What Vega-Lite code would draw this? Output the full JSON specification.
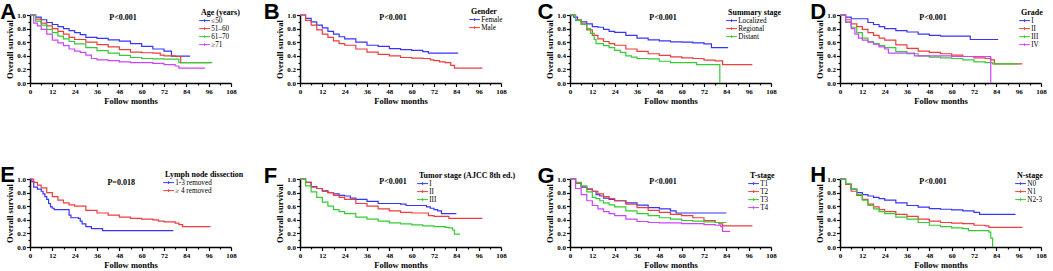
{
"$schema":"https://vega.github.io/schema/vega-lite/v6.json",
"background":"white",
"padding":{"left":0,"top":1,"right":0,"bottom":0},
"config":{
 "view":{"stroke":null},
 "axis":{"grid":false,"domainColor":"#000","domainWidth":1.5,"tickColor":"#000","tickWidth":1.2,"tickSize":3,"labelFont":"Liberation Serif","labelFontWeight":"bold","labelFontSize":7,"labelColor":"#000","labelPadding":1,"labelFlush":false,"labelOverlap":false,"titleFont":"Liberation Serif","titleFontWeight":"bold","titleFontSize":8.5,"titleColor":"#000","titlePadding":2},
 "axisX":{"tickCount":40,"labelExpr":"datum.value % 12 === 0 ? datum.label : ''","tickSize":{"condition":{"test":"datum.value % 12 === 0","value":3.5},"value":2}},
 "axisY":{"tickCount":40,"labelExpr":"round(datum.value*10) % 2 === 0 ? datum.label : ''","tickSize":{"condition":{"test":"round(datum.value*10) % 2 === 0","value":3.5},"value":2}},
 "legend":{"titleFont":"Liberation Serif","titleFontSize":8,"titleFontWeight":"bold","titleColor":"#000","labelFont":"Liberation Serif","labelFontSize":7.2,"labelColor":"#000","symbolType":"M-1.8,0H1.8M0,-0.45V0.45","symbolSize":36,"symbolStrokeWidth":1,"rowPadding":0,"titlePadding":0,"labelOffset":3,"padding":0}
},
"datasets":{
"A":[
{"g":"≤50","t":0,"s":1},{"g":"≤50","t":3,"s":0.97},{"g":"≤50","t":6,"s":0.93},{"g":"≤50","t":9,"s":0.89},{"g":"≤50","t":12,"s":0.86},{"g":"≤50","t":15,"s":0.83},{"g":"≤50","t":18,"s":0.8},{"g":"≤50","t":21,"s":0.77},{"g":"≤50","t":24,"s":0.74},{"g":"≤50","t":27,"s":0.71},{"g":"≤50","t":30,"s":0.67},{"g":"≤50","t":36,"s":0.655},{"g":"≤50","t":42,"s":0.635},{"g":"≤50","t":48,"s":0.615},{"g":"≤50","t":54,"s":0.58},{"g":"≤50","t":60,"s":0.54},{"g":"≤50","t":66,"s":0.5},{"g":"≤50","t":72,"s":0.47},{"g":"≤50","t":76,"s":0.395},{"g":"≤50","t":86,"s":0.395},
{"g":"51–60","t":0,"s":1},{"g":"51–60","t":3,"s":0.94},{"g":"51–60","t":6,"s":0.88},{"g":"51–60","t":9,"s":0.84},{"g":"51–60","t":12,"s":0.8},{"g":"51–60","t":15,"s":0.76},{"g":"51–60","t":18,"s":0.72},{"g":"51–60","t":21,"s":0.67},{"g":"51–60","t":24,"s":0.64},{"g":"51–60","t":30,"s":0.6},{"g":"51–60","t":36,"s":0.565},{"g":"51–60","t":42,"s":0.53},{"g":"51–60","t":48,"s":0.49},{"g":"51–60","t":54,"s":0.455},{"g":"51–60","t":60,"s":0.445},{"g":"51–60","t":66,"s":0.44},{"g":"51–60","t":70,"s":0.41},{"g":"51–60","t":72,"s":0.4},{"g":"51–60","t":78,"s":0.39},{"g":"51–60","t":81,"s":0.3},{"g":"51–60","t":97,"s":0.3},
{"g":"61–70","t":0,"s":1},{"g":"61–70","t":3,"s":0.91},{"g":"61–70","t":6,"s":0.85},{"g":"61–70","t":9,"s":0.79},{"g":"61–70","t":12,"s":0.74},{"g":"61–70","t":15,"s":0.69},{"g":"61–70","t":18,"s":0.65},{"g":"61–70","t":21,"s":0.61},{"g":"61–70","t":24,"s":0.575},{"g":"61–70","t":30,"s":0.52},{"g":"61–70","t":36,"s":0.475},{"g":"61–70","t":42,"s":0.44},{"g":"61–70","t":48,"s":0.405},{"g":"61–70","t":54,"s":0.375},{"g":"61–70","t":60,"s":0.36},{"g":"61–70","t":66,"s":0.355},{"g":"61–70","t":72,"s":0.35},{"g":"61–70","t":79,"s":0.35},{"g":"61–70","t":80,"s":0.3},{"g":"61–70","t":98,"s":0.3},
{"g":"≥71","t":0,"s":1},{"g":"≥71","t":2,"s":0.88},{"g":"≥71","t":4,"s":0.84},{"g":"≥71","t":6,"s":0.79},{"g":"≥71","t":9,"s":0.72},{"g":"≥71","t":12,"s":0.63},{"g":"≥71","t":15,"s":0.59},{"g":"≥71","t":18,"s":0.55},{"g":"≥71","t":21,"s":0.5},{"g":"≥71","t":24,"s":0.47},{"g":"≥71","t":27,"s":0.45},{"g":"≥71","t":30,"s":0.41},{"g":"≥71","t":33,"s":0.36},{"g":"≥71","t":36,"s":0.34},{"g":"≥71","t":42,"s":0.33},{"g":"≥71","t":48,"s":0.31},{"g":"≥71","t":54,"s":0.3},{"g":"≥71","t":60,"s":0.3},{"g":"≥71","t":66,"s":0.29},{"g":"≥71","t":72,"s":0.27},{"g":"≥71","t":78,"s":0.25},{"g":"≥71","t":80,"s":0.22},{"g":"≥71","t":94,"s":0.22}
],
"B":[
{"g":"Female","t":0,"s":1},{"g":"Female","t":3,"s":0.95},{"g":"Female","t":6,"s":0.9},{"g":"Female","t":9,"s":0.85},{"g":"Female","t":12,"s":0.81},{"g":"Female","t":15,"s":0.76},{"g":"Female","t":18,"s":0.72},{"g":"Female","t":21,"s":0.68},{"g":"Female","t":24,"s":0.65},{"g":"Female","t":30,"s":0.6},{"g":"Female","t":36,"s":0.555},{"g":"Female","t":42,"s":0.54},{"g":"Female","t":48,"s":0.505},{"g":"Female","t":54,"s":0.49},{"g":"Female","t":60,"s":0.48},{"g":"Female","t":66,"s":0.46},{"g":"Female","t":69,"s":0.44},{"g":"Female","t":85,"s":0.44},
{"g":"Male","t":0,"s":1},{"g":"Male","t":3,"s":0.92},{"g":"Male","t":6,"s":0.85},{"g":"Male","t":9,"s":0.78},{"g":"Male","t":12,"s":0.72},{"g":"Male","t":15,"s":0.67},{"g":"Male","t":18,"s":0.62},{"g":"Male","t":21,"s":0.58},{"g":"Male","t":24,"s":0.555},{"g":"Male","t":30,"s":0.5},{"g":"Male","t":36,"s":0.455},{"g":"Male","t":42,"s":0.42},{"g":"Male","t":48,"s":0.4},{"g":"Male","t":54,"s":0.375},{"g":"Male","t":60,"s":0.365},{"g":"Male","t":66,"s":0.36},{"g":"Male","t":70,"s":0.34},{"g":"Male","t":72,"s":0.33},{"g":"Male","t":75,"s":0.31},{"g":"Male","t":78,"s":0.3},{"g":"Male","t":81,"s":0.26},{"g":"Male","t":83,"s":0.22},{"g":"Male","t":98,"s":0.22}
],
"C":[
{"g":"Localized","t":0,"s":1},{"g":"Localized","t":2,"s":0.97},{"g":"Localized","t":4,"s":0.92},{"g":"Localized","t":6,"s":0.9},{"g":"Localized","t":9,"s":0.87},{"g":"Localized","t":12,"s":0.83},{"g":"Localized","t":15,"s":0.82},{"g":"Localized","t":18,"s":0.79},{"g":"Localized","t":21,"s":0.76},{"g":"Localized","t":24,"s":0.745},{"g":"Localized","t":30,"s":0.7},{"g":"Localized","t":36,"s":0.66},{"g":"Localized","t":42,"s":0.635},{"g":"Localized","t":48,"s":0.62},{"g":"Localized","t":54,"s":0.605},{"g":"Localized","t":60,"s":0.6},{"g":"Localized","t":66,"s":0.59},{"g":"Localized","t":72,"s":0.575},{"g":"Localized","t":76,"s":0.52},{"g":"Localized","t":85,"s":0.52},
{"g":"Regional","t":0,"s":1},{"g":"Regional","t":3,"s":0.93},{"g":"Regional","t":6,"s":0.87},{"g":"Regional","t":9,"s":0.78},{"g":"Regional","t":12,"s":0.7},{"g":"Regional","t":15,"s":0.65},{"g":"Regional","t":18,"s":0.61},{"g":"Regional","t":21,"s":0.58},{"g":"Regional","t":24,"s":0.555},{"g":"Regional","t":30,"s":0.5},{"g":"Regional","t":36,"s":0.465},{"g":"Regional","t":42,"s":0.43},{"g":"Regional","t":48,"s":0.405},{"g":"Regional","t":54,"s":0.385},{"g":"Regional","t":60,"s":0.37},{"g":"Regional","t":66,"s":0.36},{"g":"Regional","t":72,"s":0.335},{"g":"Regional","t":78,"s":0.325},{"g":"Regional","t":82,"s":0.27},{"g":"Regional","t":98,"s":0.27},
{"g":"Distant","t":0,"s":1},{"g":"Distant","t":3,"s":0.92},{"g":"Distant","t":6,"s":0.86},{"g":"Distant","t":9,"s":0.8},{"g":"Distant","t":11,"s":0.73},{"g":"Distant","t":13,"s":0.64},{"g":"Distant","t":14,"s":0.58},{"g":"Distant","t":18,"s":0.55},{"g":"Distant","t":21,"s":0.52},{"g":"Distant","t":24,"s":0.48},{"g":"Distant","t":27,"s":0.45},{"g":"Distant","t":30,"s":0.4},{"g":"Distant","t":33,"s":0.38},{"g":"Distant","t":36,"s":0.36},{"g":"Distant","t":42,"s":0.355},{"g":"Distant","t":48,"s":0.32},{"g":"Distant","t":54,"s":0.3},{"g":"Distant","t":66,"s":0.3},{"g":"Distant","t":68,"s":0.27},{"g":"Distant","t":80,"s":0.27},{"g":"Distant","t":80.5,"s":0}
],
"D":[
{"g":"I","t":0,"s":1},{"g":"I","t":3,"s":0.97},{"g":"I","t":6,"s":0.945},{"g":"I","t":12,"s":0.945},{"g":"I","t":15,"s":0.89},{"g":"I","t":18,"s":0.86},{"g":"I","t":21,"s":0.83},{"g":"I","t":24,"s":0.8},{"g":"I","t":30,"s":0.77},{"g":"I","t":36,"s":0.75},{"g":"I","t":42,"s":0.72},{"g":"I","t":48,"s":0.7},{"g":"I","t":54,"s":0.69},{"g":"I","t":69,"s":0.69},{"g":"I","t":70,"s":0.64},{"g":"I","t":85,"s":0.64},
{"g":"II","t":0,"s":1},{"g":"II","t":3,"s":0.93},{"g":"II","t":6,"s":0.87},{"g":"II","t":9,"s":0.83},{"g":"II","t":12,"s":0.79},{"g":"II","t":15,"s":0.74},{"g":"II","t":18,"s":0.7},{"g":"II","t":21,"s":0.66},{"g":"II","t":24,"s":0.63},{"g":"II","t":30,"s":0.56},{"g":"II","t":36,"s":0.51},{"g":"II","t":42,"s":0.47},{"g":"II","t":48,"s":0.45},{"g":"II","t":54,"s":0.43},{"g":"II","t":60,"s":0.41},{"g":"II","t":66,"s":0.39},{"g":"II","t":72,"s":0.37},{"g":"II","t":78,"s":0.36},{"g":"II","t":81,"s":0.34},{"g":"II","t":83,"s":0.28},{"g":"II","t":98,"s":0.28},
{"g":"III","t":0,"s":1},{"g":"III","t":3,"s":0.89},{"g":"III","t":6,"s":0.82},{"g":"III","t":9,"s":0.74},{"g":"III","t":12,"s":0.66},{"g":"III","t":15,"s":0.61},{"g":"III","t":18,"s":0.58},{"g":"III","t":21,"s":0.55},{"g":"III","t":24,"s":0.52},{"g":"III","t":30,"s":0.46},{"g":"III","t":36,"s":0.43},{"g":"III","t":42,"s":0.4},{"g":"III","t":48,"s":0.38},{"g":"III","t":54,"s":0.37},{"g":"III","t":60,"s":0.36},{"g":"III","t":66,"s":0.34},{"g":"III","t":72,"s":0.31},{"g":"III","t":78,"s":0.3},{"g":"III","t":82,"s":0.28},{"g":"III","t":96,"s":0.28},
{"g":"IV","t":0,"s":1},{"g":"IV","t":3,"s":0.9},{"g":"IV","t":6,"s":0.8},{"g":"IV","t":8,"s":0.72},{"g":"IV","t":10,"s":0.66},{"g":"IV","t":12,"s":0.63},{"g":"IV","t":15,"s":0.6},{"g":"IV","t":18,"s":0.57},{"g":"IV","t":21,"s":0.53},{"g":"IV","t":24,"s":0.5},{"g":"IV","t":26,"s":0.44},{"g":"IV","t":40,"s":0.4},{"g":"IV","t":60,"s":0.39},{"g":"IV","t":80,"s":0.39},{"g":"IV","t":81,"s":0}
],
"E":[
{"g":"1-3 removed","t":0,"s":1},{"g":"1-3 removed","t":1,"s":0.96},{"g":"1-3 removed","t":2,"s":0.88},{"g":"1-3 removed","t":4,"s":0.85},{"g":"1-3 removed","t":6,"s":0.82},{"g":"1-3 removed","t":7,"s":0.78},{"g":"1-3 removed","t":8,"s":0.74},{"g":"1-3 removed","t":9,"s":0.7},{"g":"1-3 removed","t":10,"s":0.64},{"g":"1-3 removed","t":11,"s":0.59},{"g":"1-3 removed","t":12,"s":0.57},{"g":"1-3 removed","t":13,"s":0.55},{"g":"1-3 removed","t":20,"s":0.55},{"g":"1-3 removed","t":21,"s":0.47},{"g":"1-3 removed","t":22,"s":0.43},{"g":"1-3 removed","t":26,"s":0.42},{"g":"1-3 removed","t":27,"s":0.38},{"g":"1-3 removed","t":28,"s":0.34},{"g":"1-3 removed","t":30,"s":0.3},{"g":"1-3 removed","t":33,"s":0.27},{"g":"1-3 removed","t":39,"s":0.24},{"g":"1-3 removed","t":77,"s":0.24},
{"g":"≥ 4 removed","t":0,"s":1},{"g":"≥ 4 removed","t":2,"s":0.95},{"g":"≥ 4 removed","t":4,"s":0.91},{"g":"≥ 4 removed","t":6,"s":0.87},{"g":"≥ 4 removed","t":9,"s":0.8},{"g":"≥ 4 removed","t":12,"s":0.74},{"g":"≥ 4 removed","t":15,"s":0.69},{"g":"≥ 4 removed","t":18,"s":0.65},{"g":"≥ 4 removed","t":21,"s":0.62},{"g":"≥ 4 removed","t":24,"s":0.6},{"g":"≥ 4 removed","t":30,"s":0.54},{"g":"≥ 4 removed","t":36,"s":0.5},{"g":"≥ 4 removed","t":42,"s":0.47},{"g":"≥ 4 removed","t":48,"s":0.44},{"g":"≥ 4 removed","t":54,"s":0.42},{"g":"≥ 4 removed","t":60,"s":0.41},{"g":"≥ 4 removed","t":66,"s":0.4},{"g":"≥ 4 removed","t":69,"s":0.38},{"g":"≥ 4 removed","t":72,"s":0.37},{"g":"≥ 4 removed","t":78,"s":0.35},{"g":"≥ 4 removed","t":80,"s":0.33},{"g":"≥ 4 removed","t":82,"s":0.3},{"g":"≥ 4 removed","t":97,"s":0.3}
],
"F":[
{"g":"I","t":0,"s":1},{"g":"I","t":3,"s":0.95},{"g":"I","t":6,"s":0.89},{"g":"I","t":9,"s":0.86},{"g":"I","t":12,"s":0.82},{"g":"I","t":15,"s":0.8},{"g":"I","t":18,"s":0.78},{"g":"I","t":21,"s":0.76},{"g":"I","t":24,"s":0.75},{"g":"I","t":27,"s":0.72},{"g":"I","t":30,"s":0.7},{"g":"I","t":36,"s":0.67},{"g":"I","t":42,"s":0.64},{"g":"I","t":48,"s":0.64},{"g":"I","t":54,"s":0.63},{"g":"I","t":57,"s":0.61},{"g":"I","t":66,"s":0.61},{"g":"I","t":68,"s":0.59},{"g":"I","t":70,"s":0.57},{"g":"I","t":72,"s":0.55},{"g":"I","t":74,"s":0.53},{"g":"I","t":76,"s":0.49},{"g":"I","t":84,"s":0.49},
{"g":"II","t":0,"s":1},{"g":"II","t":3,"s":0.95},{"g":"II","t":6,"s":0.88},{"g":"II","t":9,"s":0.86},{"g":"II","t":12,"s":0.83},{"g":"II","t":15,"s":0.8},{"g":"II","t":18,"s":0.76},{"g":"II","t":21,"s":0.73},{"g":"II","t":24,"s":0.7},{"g":"II","t":30,"s":0.64},{"g":"II","t":36,"s":0.6},{"g":"II","t":42,"s":0.56},{"g":"II","t":48,"s":0.53},{"g":"II","t":54,"s":0.51},{"g":"II","t":60,"s":0.5},{"g":"II","t":66,"s":0.5},{"g":"II","t":69,"s":0.46},{"g":"II","t":72,"s":0.45},{"g":"II","t":78,"s":0.45},{"g":"II","t":80,"s":0.42},{"g":"II","t":98,"s":0.42},
{"g":"III","t":0,"s":1},{"g":"III","t":3,"s":0.9},{"g":"III","t":6,"s":0.81},{"g":"III","t":9,"s":0.73},{"g":"III","t":12,"s":0.66},{"g":"III","t":15,"s":0.6},{"g":"III","t":18,"s":0.55},{"g":"III","t":21,"s":0.52},{"g":"III","t":24,"s":0.49},{"g":"III","t":30,"s":0.44},{"g":"III","t":36,"s":0.41},{"g":"III","t":42,"s":0.38},{"g":"III","t":48,"s":0.355},{"g":"III","t":54,"s":0.34},{"g":"III","t":60,"s":0.325},{"g":"III","t":66,"s":0.31},{"g":"III","t":72,"s":0.3},{"g":"III","t":78,"s":0.29},{"g":"III","t":80,"s":0.28},{"g":"III","t":82,"s":0.25},{"g":"III","t":83,"s":0.19},{"g":"III","t":86,"s":0.19}
],
"G":[
{"g":"T1","t":0,"s":1},{"g":"T1","t":3,"s":0.94},{"g":"T1","t":6,"s":0.88},{"g":"T1","t":9,"s":0.85},{"g":"T1","t":12,"s":0.82},{"g":"T1","t":14,"s":0.77},{"g":"T1","t":16,"s":0.75},{"g":"T1","t":18,"s":0.72},{"g":"T1","t":21,"s":0.7},{"g":"T1","t":24,"s":0.68},{"g":"T1","t":30,"s":0.65},{"g":"T1","t":36,"s":0.615},{"g":"T1","t":42,"s":0.58},{"g":"T1","t":48,"s":0.56},{"g":"T1","t":54,"s":0.53},{"g":"T1","t":57,"s":0.5},{"g":"T1","t":84,"s":0.5},
{"g":"T2","t":0,"s":1},{"g":"T2","t":3,"s":0.94},{"g":"T2","t":6,"s":0.89},{"g":"T2","t":9,"s":0.85},{"g":"T2","t":12,"s":0.82},{"g":"T2","t":15,"s":0.78},{"g":"T2","t":18,"s":0.74},{"g":"T2","t":21,"s":0.71},{"g":"T2","t":24,"s":0.68},{"g":"T2","t":30,"s":0.63},{"g":"T2","t":36,"s":0.58},{"g":"T2","t":42,"s":0.54},{"g":"T2","t":48,"s":0.51},{"g":"T2","t":54,"s":0.48},{"g":"T2","t":60,"s":0.46},{"g":"T2","t":66,"s":0.43},{"g":"T2","t":72,"s":0.39},{"g":"T2","t":78,"s":0.36},{"g":"T2","t":80,"s":0.34},{"g":"T2","t":82,"s":0.31},{"g":"T2","t":98,"s":0.31},
{"g":"T3","t":0,"s":1},{"g":"T3","t":3,"s":0.95},{"g":"T3","t":6,"s":0.9},{"g":"T3","t":9,"s":0.81},{"g":"T3","t":12,"s":0.73},{"g":"T3","t":14,"s":0.71},{"g":"T3","t":16,"s":0.68},{"g":"T3","t":18,"s":0.65},{"g":"T3","t":21,"s":0.62},{"g":"T3","t":24,"s":0.59},{"g":"T3","t":30,"s":0.53},{"g":"T3","t":36,"s":0.49},{"g":"T3","t":42,"s":0.46},{"g":"T3","t":48,"s":0.43},{"g":"T3","t":54,"s":0.41},{"g":"T3","t":60,"s":0.39},{"g":"T3","t":66,"s":0.38},{"g":"T3","t":72,"s":0.37},{"g":"T3","t":78,"s":0.36},{"g":"T3","t":84,"s":0.36},
{"g":"T4","t":0,"s":1},{"g":"T4","t":3,"s":0.86},{"g":"T4","t":6,"s":0.77},{"g":"T4","t":9,"s":0.68},{"g":"T4","t":12,"s":0.61},{"g":"T4","t":15,"s":0.56},{"g":"T4","t":18,"s":0.52},{"g":"T4","t":21,"s":0.49},{"g":"T4","t":24,"s":0.46},{"g":"T4","t":30,"s":0.41},{"g":"T4","t":36,"s":0.375},{"g":"T4","t":42,"s":0.36},{"g":"T4","t":48,"s":0.355},{"g":"T4","t":60,"s":0.345},{"g":"T4","t":72,"s":0.33},{"g":"T4","t":78,"s":0.32},{"g":"T4","t":81,"s":0.3},{"g":"T4","t":82,"s":0.23},{"g":"T4","t":86,"s":0.23}
],
"H":[
{"g":"N0","t":0,"s":1},{"g":"N0","t":3,"s":0.92},{"g":"N0","t":6,"s":0.85},{"g":"N0","t":9,"s":0.8},{"g":"N0","t":12,"s":0.77},{"g":"N0","t":15,"s":0.75},{"g":"N0","t":18,"s":0.73},{"g":"N0","t":21,"s":0.71},{"g":"N0","t":24,"s":0.69},{"g":"N0","t":30,"s":0.65},{"g":"N0","t":36,"s":0.61},{"g":"N0","t":42,"s":0.585},{"g":"N0","t":48,"s":0.565},{"g":"N0","t":54,"s":0.555},{"g":"N0","t":60,"s":0.545},{"g":"N0","t":66,"s":0.53},{"g":"N0","t":72,"s":0.51},{"g":"N0","t":75,"s":0.48},{"g":"N0","t":84,"s":0.48},{"g":"N0","t":94,"s":0.47},
{"g":"N1","t":0,"s":1},{"g":"N1","t":3,"s":0.92},{"g":"N1","t":6,"s":0.82},{"g":"N1","t":9,"s":0.76},{"g":"N1","t":12,"s":0.7},{"g":"N1","t":15,"s":0.63},{"g":"N1","t":18,"s":0.59},{"g":"N1","t":21,"s":0.55},{"g":"N1","t":24,"s":0.52},{"g":"N1","t":30,"s":0.48},{"g":"N1","t":36,"s":0.45},{"g":"N1","t":42,"s":0.41},{"g":"N1","t":48,"s":0.38},{"g":"N1","t":54,"s":0.36},{"g":"N1","t":60,"s":0.35},{"g":"N1","t":66,"s":0.345},{"g":"N1","t":72,"s":0.32},{"g":"N1","t":78,"s":0.31},{"g":"N1","t":80,"s":0.29},{"g":"N1","t":98,"s":0.29},
{"g":"N2-3","t":0,"s":1},{"g":"N2-3","t":3,"s":0.93},{"g":"N2-3","t":6,"s":0.85},{"g":"N2-3","t":9,"s":0.77},{"g":"N2-3","t":12,"s":0.69},{"g":"N2-3","t":15,"s":0.61},{"g":"N2-3","t":18,"s":0.56},{"g":"N2-3","t":21,"s":0.52},{"g":"N2-3","t":24,"s":0.49},{"g":"N2-3","t":30,"s":0.44},{"g":"N2-3","t":36,"s":0.41},{"g":"N2-3","t":42,"s":0.36},{"g":"N2-3","t":48,"s":0.32},{"g":"N2-3","t":54,"s":0.3},{"g":"N2-3","t":60,"s":0.28},{"g":"N2-3","t":66,"s":0.27},{"g":"N2-3","t":69,"s":0.24},{"g":"N2-3","t":78,"s":0.24},{"g":"N2-3","t":80,"s":0.22},{"g":"N2-3","t":81,"s":0.13},{"g":"N2-3","t":82,"s":0}
]
},
"columns":4,
"spacing":{"row":96,"column":69},
"bounds":"flush",
"resolve":{"scale":{"color":"independent"},"legend":{"color":"independent"}},
"concat":[
{"width":201,"height":68,"layer":[
 {"data":{"name":"A"},"mark":{"type":"line","interpolate":"step-after","strokeWidth":1.2},"encoding":{
  "x":{"field":"t","type":"quantitative","scale":{"domain":[0,108],"nice":false},"axis":{"values":[0,6,12,18,24,30,36,42,48,54,60,66,72,78,84,90,96,102,108],"title":"Follow months"}},
  "y":{"field":"s","type":"quantitative","scale":{"domain":[0,1],"nice":false},"axis":{"values":[0,0.1,0.2,0.3,0.4,0.5,0.6,0.7,0.8,0.9,1],"format":".1f","title":"Overall survival"}},
  "color":{"field":"g","type":"nominal","scale":{"domain":["≤50","51–60","61–70","≥71"],"range":["#3535ff","#f03c3c","#33cc33","#cc44ff"]},"legend":{"title":"Age (years)","orient":"none","legendX":171,"legendY":-6}}}},
 {"data":{"values":[{}]},"mark":{"type":"text","font":"Liberation Serif","fontWeight":"bold","fontSize":8},"encoding":{"x":{"datum":50},"y":{"datum":0.95},"text":{"value":"P<0.001"}}},
 {"data":{"values":[{}]},"mark":{"type":"text","font":"Liberation Sans","fontWeight":"bold","fontSize":22,"align":"left","baseline":"alphabetic"},"encoding":{"x":{"datum":-16},"y":{"datum":0.94},"text":{"value":"A"}}}
]},
{"width":201,"height":68,"layer":[
 {"data":{"name":"B"},"mark":{"type":"line","interpolate":"step-after","strokeWidth":1.2},"encoding":{
  "x":{"field":"t","type":"quantitative","scale":{"domain":[0,108],"nice":false},"axis":{"values":[0,6,12,18,24,30,36,42,48,54,60,66,72,78,84,90,96,102,108],"title":"Follow months"}},
  "y":{"field":"s","type":"quantitative","scale":{"domain":[0,1],"nice":false},"axis":{"values":[0,0.1,0.2,0.3,0.4,0.5,0.6,0.7,0.8,0.9,1],"format":".1f","title":"Overall survival"}},
  "color":{"field":"g","type":"nominal","scale":{"domain":["Female","Male"],"range":["#3535ff","#f03c3c"]},"legend":{"title":"Gender","orient":"none","legendX":171,"legendY":-7}}}},
 {"data":{"values":[{}]},"mark":{"type":"text","font":"Liberation Serif","fontWeight":"bold","fontSize":8},"encoding":{"x":{"datum":50},"y":{"datum":0.95},"text":{"value":"P<0.001"}}},
 {"data":{"values":[{}]},"mark":{"type":"text","font":"Liberation Sans","fontWeight":"bold","fontSize":22,"align":"left","baseline":"alphabetic"},"encoding":{"x":{"datum":-19.5},"y":{"datum":0.935},"text":{"value":"B"}}}
]},
{"width":201,"height":68,"layer":[
 {"data":{"name":"C"},"mark":{"type":"line","interpolate":"step-after","strokeWidth":1.2},"encoding":{
  "x":{"field":"t","type":"quantitative","scale":{"domain":[0,108],"nice":false},"axis":{"values":[0,6,12,18,24,30,36,42,48,54,60,66,72,78,84,90,96,102,108],"title":"Follow months"}},
  "y":{"field":"s","type":"quantitative","scale":{"domain":[0,1],"nice":false},"axis":{"values":[0,0.1,0.2,0.3,0.4,0.5,0.6,0.7,0.8,0.9,1],"format":".1f","title":"Overall survival"}},
  "color":{"field":"g","type":"nominal","scale":{"domain":["Localized","Regional","Distant"],"range":["#3535ff","#f03c3c","#33cc33"]},"legend":{"title":"Summary stage","orient":"none","legendX":158,"legendY":-6}}}},
 {"data":{"values":[{}]},"mark":{"type":"text","font":"Liberation Serif","fontWeight":"bold","fontSize":8},"encoding":{"x":{"datum":50},"y":{"datum":0.95},"text":{"value":"P<0.001"}}},
 {"data":{"values":[{}]},"mark":{"type":"text","font":"Liberation Sans","fontWeight":"bold","fontSize":22,"align":"left","baseline":"alphabetic"},"encoding":{"x":{"datum":-17.5},"y":{"datum":0.94},"text":{"value":"C"}}}
]},
{"width":201,"height":68,"layer":[
 {"data":{"name":"D"},"mark":{"type":"line","interpolate":"step-after","strokeWidth":1.2},"encoding":{
  "x":{"field":"t","type":"quantitative","scale":{"domain":[0,108],"nice":false},"axis":{"values":[0,6,12,18,24,30,36,42,48,54,60,66,72,78,84,90,96,102,108],"title":"Follow months"}},
  "y":{"field":"s","type":"quantitative","scale":{"domain":[0,1],"nice":false},"axis":{"values":[0,0.1,0.2,0.3,0.4,0.5,0.6,0.7,0.8,0.9,1],"format":".1f","title":"Overall survival"}},
  "color":{"field":"g","type":"nominal","scale":{"domain":["I","II","III","IV"],"range":["#3535ff","#f03c3c","#33cc33","#cc44ff"]},"legend":{"title":"Grade","orient":"none","legendX":181,"legendY":-6}}}},
 {"data":{"values":[{}]},"mark":{"type":"text","font":"Liberation Serif","fontWeight":"bold","fontSize":8},"encoding":{"x":{"datum":50},"y":{"datum":0.95},"text":{"value":"P<0.001"}}},
 {"data":{"values":[{}]},"mark":{"type":"text","font":"Liberation Sans","fontWeight":"bold","fontSize":22,"align":"left","baseline":"alphabetic"},"encoding":{"x":{"datum":-16},"y":{"datum":0.94},"text":{"value":"D"}}}
]},
{"width":201,"height":68,"layer":[
 {"data":{"name":"E"},"mark":{"type":"line","interpolate":"step-after","strokeWidth":1.2},"encoding":{
  "x":{"field":"t","type":"quantitative","scale":{"domain":[0,108],"nice":false},"axis":{"values":[0,6,12,18,24,30,36,42,48,54,60,66,72,78,84,90,96,102,108],"title":"Follow months"}},
  "y":{"field":"s","type":"quantitative","scale":{"domain":[0,1],"nice":false},"axis":{"values":[0,0.1,0.2,0.3,0.4,0.5,0.6,0.7,0.8,0.9,1],"format":".1f","title":"Overall survival"}},
  "color":{"field":"g","type":"nominal","scale":{"domain":["1-3 removed","≥ 4 removed"],"range":["#3535ff","#f03c3c"]},"legend":{"title":"Lymph node dissection","orient":"none","legendX":135,"legendY":-8}}}},
 {"data":{"values":[{}]},"mark":{"type":"text","font":"Liberation Serif","fontWeight":"bold","fontSize":8},"encoding":{"x":{"datum":49},"y":{"datum":0.94},"text":{"value":"P=0.018"}}},
 {"data":{"values":[{}]},"mark":{"type":"text","font":"Liberation Sans","fontWeight":"bold","fontSize":22,"align":"left","baseline":"alphabetic"},"encoding":{"x":{"datum":-16},"y":{"datum":0.95},"text":{"value":"E"}}}
]},
{"width":201,"height":68,"layer":[
 {"data":{"name":"F"},"mark":{"type":"line","interpolate":"step-after","strokeWidth":1.2},"encoding":{
  "x":{"field":"t","type":"quantitative","scale":{"domain":[0,108],"nice":false},"axis":{"values":[0,6,12,18,24,30,36,42,48,54,60,66,72,78,84,90,96,102,108],"title":"Follow months"}},
  "y":{"field":"s","type":"quantitative","scale":{"domain":[0,1],"nice":false},"axis":{"values":[0,0.1,0.2,0.3,0.4,0.5,0.6,0.7,0.8,0.9,1],"format":".1f","title":"Overall survival"}},
  "color":{"field":"g","type":"nominal","scale":{"domain":["I","II","III"],"range":["#3535ff","#f03c3c","#33cc33"]},"legend":{"title":"Tumor stage (AJCC 8th ed.)","orient":"none","legendX":119,"legendY":-7}}}},
 {"data":{"values":[{}]},"mark":{"type":"text","font":"Liberation Serif","fontWeight":"bold","fontSize":8},"encoding":{"x":{"datum":50},"y":{"datum":0.95},"text":{"value":"P<0.001"}}},
 {"data":{"values":[{}]},"mark":{"type":"text","font":"Liberation Sans","fontWeight":"bold","fontSize":22,"align":"left","baseline":"alphabetic"},"encoding":{"x":{"datum":-19.5},"y":{"datum":0.935},"text":{"value":"F"}}}
]},
{"width":201,"height":68,"layer":[
 {"data":{"name":"G"},"mark":{"type":"line","interpolate":"step-after","strokeWidth":1.2},"encoding":{
  "x":{"field":"t","type":"quantitative","scale":{"domain":[0,108],"nice":false},"axis":{"values":[0,6,12,18,24,30,36,42,48,54,60,66,72,78,84,90,96,102,108],"title":"Follow months"}},
  "y":{"field":"s","type":"quantitative","scale":{"domain":[0,1],"nice":false},"axis":{"values":[0,0.1,0.2,0.3,0.4,0.5,0.6,0.7,0.8,0.9,1],"format":".1f","title":"Overall survival"}},
  "color":{"field":"g","type":"nominal","scale":{"domain":["T1","T2","T3","T4"],"range":["#3535ff","#f03c3c","#33cc33","#cc44ff"]},"legend":{"title":"T-stage","orient":"none","legendX":180,"legendY":-7}}}},
 {"data":{"values":[{}]},"mark":{"type":"text","font":"Liberation Serif","fontWeight":"bold","fontSize":8},"encoding":{"x":{"datum":50},"y":{"datum":0.95},"text":{"value":"P<0.001"}}},
 {"data":{"values":[{}]},"mark":{"type":"text","font":"Liberation Sans","fontWeight":"bold","fontSize":22,"align":"left","baseline":"alphabetic"},"encoding":{"x":{"datum":-17.5},"y":{"datum":0.94},"text":{"value":"G"}}}
]},
{"width":201,"height":68,"layer":[
 {"data":{"name":"H"},"mark":{"type":"line","interpolate":"step-after","strokeWidth":1.2},"encoding":{
  "x":{"field":"t","type":"quantitative","scale":{"domain":[0,108],"nice":false},"axis":{"values":[0,6,12,18,24,30,36,42,48,54,60,66,72,78,84,90,96,102,108],"title":"Follow months"}},
  "y":{"field":"s","type":"quantitative","scale":{"domain":[0,1],"nice":false},"axis":{"values":[0,0.1,0.2,0.3,0.4,0.5,0.6,0.7,0.8,0.9,1],"format":".1f","title":"Overall survival"}},
  "color":{"field":"g","type":"nominal","scale":{"domain":["N0","N1","N2-3"],"range":["#3535ff","#f03c3c","#33cc33"]},"legend":{"title":"N-stage","orient":"none","legendX":177,"legendY":-7}}}},
 {"data":{"values":[{}]},"mark":{"type":"text","font":"Liberation Serif","fontWeight":"bold","fontSize":8},"encoding":{"x":{"datum":50},"y":{"datum":0.95},"text":{"value":"P<0.001"}}},
 {"data":{"values":[{}]},"mark":{"type":"text","font":"Liberation Sans","fontWeight":"bold","fontSize":22,"align":"left","baseline":"alphabetic"},"encoding":{"x":{"datum":-16},"y":{"datum":0.95},"text":{"value":"H"}}}
]}
]
}
